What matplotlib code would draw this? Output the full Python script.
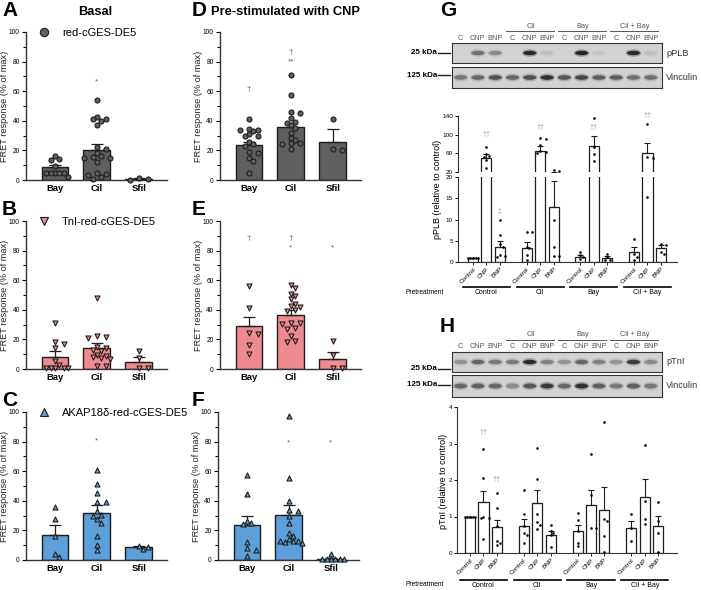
import numpy as np
import matplotlib
matplotlib.use('Agg')
import matplotlib.pyplot as plt
import matplotlib.transforms as mtransforms
from matplotlib.lines import Line2D
from matplotlib.patches import Ellipse

plt.rcParams['font.family'] = ['Liberation Sans', 'DejaVu Sans']

# ─────────────────────────────────────────────
# DATA — FRET panels (A–F)
# ─────────────────────────────────────────────
CATS = ['Bay', 'Cil', 'Sfil']

A_mean = [8.5, 20.3, 0.8]
A_sem = [1.6, 3.7, 0.4]
A_pts = [[16.5, 14.5, 13.5, 9.5, 5, 5, 5, 4.5, 4.5, 2],
         [54, 42.5, 41.5, 41, 40, 37, 22, 21, 18, 16, 15.5, 15, 15, 12, 4.5, 4, 3.5, 2, 1],
         [1.5, 0.5, 0.2]]
A_marks = [(1, '*', 66)]

D_mean = [23.7, 35.7, 26]
D_sem = [2.3, 2.7, 8.3]
D_pts = [[41, 34.5, 34, 33.5, 33, 31, 30, 29.5, 26, 24, 23, 19, 18, 15, 13, 5],
         [71, 57.5, 46, 45, 42, 39.5, 38.5, 37, 35, 32, 28.5, 27, 25, 25, 24.5, 21],
         [41.5, 21, 20]]
D_marks = [(0, '†', 61), (1, '†', 86), (1, '**', 80)]

B_mean = [8.1, 14, 5]
B_sem = [3.9, 3.8, 3]
B_pts = [[31, 18, 17, 14, 5.5, 3, 0.5, 0.5, 0.5, 0.5, 0.5],
         [48, 22, 21.5, 21, 15, 14, 13, 12, 9.5, 9, 8, 7.5, 7, 2, 2],
         [12.5, 7.5, 0.5, 0.5]]
B_marks = []

E_mean = [28.8, 36.7, 6.5]
E_sem = [6.6, 3.3, 4.8]
E_pts = [[56, 41.5, 24.5, 23.5, 16, 10],
         [57, 55, 51, 49, 47, 44, 42.5, 42, 40, 39.5, 31, 31, 30.5, 28, 27, 22, 19, 18.5],
         [19, 9.5, 0.5, 0.5]]
E_marks = [(0, '†', 88), (1, '†', 88), (1, '*', 82), (2, '*', 82)]

C_mean = [17, 31.8, 8.6]
C_sem = [6.4, 5.4, 0.6]
C_pts = [[36, 27.5, 16.5, 4, 2],
         [61, 51.5, 45, 39.5, 39, 33, 30.5, 29.5, 27.5, 25, 16, 10, 6.5],
         [9.5, 9, 7.5]]
C_marks = [(1, '*', 80.6)]

F_mean = [23.4, 30.2, 0.6]
F_sem = [6.1, 7, 0.6]
F_pts = [[57.5, 44.5, 26.5, 25, 24.5, 12.5, 8, 7, 2.5],
         [97.5, 55.5, 40, 33.5, 33, 30, 25, 18, 16, 14, 13, 13, 13, 12.5, 11.5],
         [4, 0.5, 0.5, 0.5, 0.5, 0.5, 0.5]]
F_marks = [(1, '*', 79), (2, '*', 79)]

# ─────────────────────────────────────────────
# DATA — western blots + quantification (G, H)
# ─────────────────────────────────────────────
LANES = ['C', 'CNP', 'BNP'] * 4
GROUPS = ['Control', 'Cil', 'Bay', 'Cil + Bay']
TREAT = ['Control', 'CNP', 'BNP'] * 4
GX = np.array([0, 1, 2, 4, 5, 6, 8, 9, 10, 12, 13, 14])

G_band_top = [0.0, 0.5, 0.35, 0.0, 0.95, 0.08, 0.0, 1.0, 0.05, 0.0, 0.95, 0.08]
G_band_vin = [0.45, 0.55, 0.7, 0.55, 0.7, 0.9, 0.65, 0.75, 0.6, 0.6, 0.5, 0.5]
H_band_top = [0.3, 0.55, 0.45, 0.45, 0.95, 0.4, 0.3, 0.55, 0.4, 0.3, 0.85, 0.35]
H_band_vin = [0.55, 0.6, 0.55, 0.35, 0.65, 0.85, 0.55, 0.9, 0.6, 0.45, 0.6, 0.45]

G_mean = [1.0, 50.7, 3.56, 3.3, 64.3, 13.0, 1.2, 75, 0.95, 2.45, 60.7, 3.2]
G_sem = [0, 7.2, 1.44, 1.3, 12.1, 6.1, 0.5, 21.4, 0.45, 1.15, 22.2, 0.9]
G_pts = [[1, 1, 1, 1, 1, 1], [73.6, 58, 54, 52, 45, 29], [9.9, 6.3, 4.3, 3.6, 1.6, 1.3, 1.2],
         [7.1, 7, 3.6, 3.2, 1.6, 0.5], [93, 91.5, 77, 65, 63, 61.5], [23.3, 22, 10, 3.5, 1.5, 1.5],
         [2.4, 1.6, 1.2, 0.8], [135.7, 73.6, 59, 43], [2, 1.2, 0.5, 0.5],
         [5.4, 1.8, 1.2, 0.5], [122, 52, 50.7, 15.2], [4.2, 4, 2.4, 2]]
G_marks = [(1, '††', 100), (2, '‡', 12), (4, '††', 116), (7, '††', 115), (10, '††', 140)]

H_mean = [1.0, 1.4, 0.71, 0.75, 1.37, 0.5, 0.59, 1.32, 1.17, 0.68, 1.53, 0.73]
H_sem = [0, 0.31, 0.2, 0.19, 0.36, 0.11, 0.19, 0.4, 0.63, 0.19, 0.5, 0.29]
H_pts = [[1, 1, 1, 1, 1, 1], [2.86, 2.05, 0.99, 0.96, 0.95, 0.37], [1.64, 1.23, 0.73, 0.32, 0.27, 0.21],
         [1.72, 1.07, 0.75, 0.55, 0.5, 0.27], [2.88, 2.03, 1.07, 0.84, 0.78, 0.66],
         [0.76, 0.61, 0.55, 0.5, 0.16], [1.1, 0.91, 0.59, 0.27, 0.18], [2.71, 1.6, 0.68, 0.68],
         [3.59, 0.94, 0.87, 0.46, 0.03], [1.07, 0.68, 0.34], [2.95, 1.42, 0.94, 0.8],
         [1.4, 0.89, 0.55, 0.03]]
H_marks = [(1, '††', 3.3), (2, '††', 2.0)]

# ─────────────────────────────────────────────
# LAYOUT HELPERS
# ─────────────────────────────────────────────
W, H = 701, 590
fig = plt.figure(figsize=(7.01, 5.90), dpi=100)
fig.patch.set_facecolor('white')

GREY = '#5f5f5f'
PINK = '#ef8a8f'
BLUE = '#5d9fd8'
INK = '#1e1e1e'


def add_ax(x0, y0, x1, y1):
    return fig.add_axes([x0 / W, 1 - y1 / H, (x1 - x0) / W, (y1 - y0) / H])


def swarm(ypix, d, kmax=4):
    # simple beeswarm: offsets in pixels
    placed, offs = [], []
    for y in ypix:
        best, best_d = 0, -1
        for k in [0] + [s * j for j in range(1, kmax + 1) for s in (1, -1)]:
            xo = k * d * 0.9
            md = min([np.hypot(xo - px, y - py) for px, py in placed] or [99])
            if md >= d:
                best = xo
                break
            if md > best_d:
                best, best_d = xo, md
        placed.append((best, y))
        offs.append(best)
    return np.array(offs)


def style_spines(ax, lw=1.0):
    ax.spines[['top', 'right']].set_visible(False)
    for s in ('left', 'bottom'):
        ax.spines[s].set_linewidth(lw)
        ax.spines[s].set_color('#333333')


def fret_panel(box, means, sems, pts, color, marker, marks, legend=None):
    ax = add_ax(*box)
    x = np.arange(3)
    ax.bar(x, means, width=0.64, color=color, edgecolor=INK, lw=1.0, zorder=1)
    ax.errorbar(x, means, yerr=[np.zeros(3), sems], fmt='none', ecolor=INK,
                elinewidth=0.9, capsize=4, capthick=0.9, zorder=2)
    for i, vals in enumerate(pts):
        v = np.array(vals, float)
        offs = swarm(v * 1.48, 4.8, kmax=3) / 42.0
        ax.scatter(i + offs, v, marker=marker, s=13, facecolor=color,
                   edgecolor=INK, lw=0.8, zorder=3, clip_on=False)
    for i, txt, y in marks:
        ax.text(i, y, txt, ha='center', va='center', fontsize=6, color='#666666')
    ax.set_xlim(-0.69, 2.67)
    ax.set_ylim(0, 100)
    ax.set_yticks(range(0, 101, 20))
    ax.set_yticks(range(10, 100, 20), minor=True)
    ax.tick_params(axis='y', labelsize=4.8, length=3, width=0.8, pad=1.5)
    ax.tick_params(axis='y', which='minor', length=2, width=0.8)
    ax.set_xticks(x, CATS, fontsize=6.8, fontweight='bold')
    ax.tick_params(axis='x', length=0, pad=3)
    ax.set_ylabel('FRET response (% of max)', fontsize=6.6, color='#222222')
    ax.yaxis.set_label_coords(-0.118, 0.5)
    style_spines(ax)
    if legend:
        h = Line2D([], [], ls='none', marker=marker, markersize=6, markerfacecolor=color,
                   markeredgecolor=INK, markeredgewidth=0.8)
        ax.legend([h], [legend], loc='upper left', bbox_to_anchor=(0.02, 1.06),
                  frameon=False, fontsize=8, handletextpad=0.6, borderaxespad=0)
    return ax


# ─────────────────────────────────────────────
# PANELS A–F
# ─────────────────────────────────────────────
fret_panel((26, 32, 167, 180), A_mean, A_sem, A_pts, GREY, 'o', A_marks, 'red-cGES-DE5')
fret_panel((220, 32, 361, 180), D_mean, D_sem, D_pts, GREY, 'o', D_marks)
fret_panel((26, 221, 167, 369), B_mean, B_sem, B_pts, PINK, 'v', B_marks, 'TnI-red-cGES-DE5')
fret_panel((220, 221, 361, 369), E_mean, E_sem, E_pts, PINK, 'v', E_marks)
fret_panel((26, 412, 167, 560), C_mean, C_sem, C_pts, BLUE, '^', C_marks, 'AKAP18δ-red-cGES-DE5')
fret_panel((218, 412, 359, 560), F_mean, F_sem, F_pts, BLUE, '^', F_marks)

for lab, (px, py) in zip('ABCDEFGH', [(2, 11), (2, 210), (2, 400), (192, 11),
                                      (192, 210), (192, 400), (440, 11), (440, 327)]):
    fig.text(px / W, 1 - py / H, lab, fontsize=15, fontweight='bold', va='center', ha='left')
fig.text(95 / W, 1 - 12 / H, 'Basal', fontsize=9.3, fontweight='bold', ha='center', va='center')
fig.text(211 / W, 1 - 12 / H, 'Pre-stimulated with CNP', fontsize=9.3, fontweight='bold',
         ha='left', va='center')


# ─────────────────────────────────────────────
# WESTERN BLOTS
# ─────────────────────────────────────────────
def blot_strip(box, bands, name, kda, kda_y, header=False):
    ax = add_ax(*box)
    ax.set_facecolor('#d2d2d2')
    ax.set_xlim(-0.5, 11.65)
    ax.set_ylim(0, 1)
    ax.set_xticks([])
    ax.set_yticks([])
    for s in ax.spines.values():
        s.set_linewidth(0.8)
        s.set_color('#333333')
    for i, v in enumerate(bands):
        if v <= 0:
            continue
        ax.add_patch(Ellipse((i, 0.5), 0.9, 0.38, color='#202020', alpha=0.3 * v, lw=0))
        ax.add_patch(Ellipse((i, 0.5), 0.75, 0.22, color='#101010', alpha=0.85 * v, lw=0))
    tr = mtransforms.blended_transform_factory(ax.transData, ax.transAxes)
    ax.text(1.02, 0.5, name, transform=ax.transAxes, fontsize=6.6, color='#333333',
            ha='left', va='center')
    ax.plot([-1.3, -0.6], [kda_y, kda_y], color='#222222', lw=1.0, transform=tr, clip_on=False)
    ax.text(-1.35, kda_y, kda, transform=tr, fontsize=5.8, fontweight='bold',
            ha='right', va='center')
    if header:
        for i, lab in enumerate(LANES):
            ax.text(i, 1.25, lab, transform=tr, fontsize=5.3, color='#555555',
                    ha='center', va='center')
        for g in range(1, 4):
            a, b = 3 * g, 3 * g + 2
            ax.plot([a - 0.35, b + 0.4], [1.6, 1.6], color='#555555', lw=0.7,
                    transform=tr, clip_on=False)
            ax.text((a + b) / 2 + 0.05, 1.85, GROUPS[g], transform=tr, fontsize=5.3,
                    color='#555555', ha='center', va='center')
    return ax


blot_strip((452, 43, 662, 63), G_band_top, 'pPLB', '25 kDa', 0.5, header=True)
blot_strip((452, 67, 662, 88), G_band_vin, 'Vinculin', '125 kDa', 0.6)
blot_strip((452, 352, 662, 372), H_band_top, 'pTnI', '25 kDa', 0.15, header=True)
blot_strip((452, 375, 662, 397), H_band_vin, 'Vinculin', '125 kDa', 0.55)


# ─────────────────────────────────────────────
# QUANTIFICATION BAR CHARTS
# ─────────────────────────────────────────────
def quant_bars(ax, means, sems, pts, ypix_fn):
    ax.bar(GX, means, width=0.75, color='white', edgecolor=INK, lw=0.9, zorder=1)
    ax.errorbar(GX, means, yerr=[np.zeros(len(GX)), sems], fmt='none', ecolor=INK,
                elinewidth=0.8, capsize=2.2, capthick=0.8, zorder=2)
    for x, vals in zip(GX, pts):
        v = np.array(vals, float)
        offs = swarm(ypix_fn(v), 3.0, kmax=2) / 13.4
        ax.scatter(x + offs, v, s=3.5, color='black', lw=0, zorder=3)


def quant_xaxis(ax, line_y, text_y):
    ax.set_xticks(GX, TREAT, rotation=45, ha='right', rotation_mode='anchor', fontsize=4.6)
    ax.tick_params(axis='x', length=2, width=0.6, pad=1)
    tr = mtransforms.blended_transform_factory(ax.transData, ax.transAxes)
    for g in range(4):
        a, b = 4 * g, 4 * g + 2
        ax.plot([a - 0.75, b + 0.75], [line_y, line_y], color='black', lw=1.2,
                transform=tr, clip_on=False)
        ax.text((a + b) / 2, text_y, GROUPS[g], transform=tr, fontsize=5,
                ha='center', va='center')


def g_ypix(v):
    return np.where(v <= 20, v * 4.25, 90 + (v - 20) * 0.467)


# G: broken y axis
gL = add_ax(458, 177, 677, 262)
gU = add_ax(458, 116, 677, 172)
for ax in (gL, gU):
    quant_bars(ax, G_mean, G_sem, G_pts, g_ypix)
    ax.set_xlim(-1.12, 15.2)
    style_spines(ax, 0.8)
    ax.tick_params(axis='y', labelsize=4.6, length=2.5, width=0.7, pad=1)
gL.set_ylim(0, 20)
gL.set_yticks([0, 5, 10, 15, 20])
gU.set_ylim(20, 140)
gU.set_yticks([20, 60, 100, 140])
gU.spines['bottom'].set_visible(False)
gU.set_xticks([])
quant_xaxis(gL, -0.29, -0.36)
for i, txt, y in G_marks:
    ax = gL if y <= 20 else gU
    ax.text(GX[i], y, txt, ha='center', va='center', fontsize=5, color='#9a9a9a')
fig.text(438 / W, 1 - 189 / H, 'pPLB (relative to control)', rotation=90,
         fontsize=6.5, ha='center', va='center')
fig.text(444 / W, 1 - 292 / H, 'Pretreatment', fontsize=4.8, ha='right', va='center')

# H
hA = add_ax(457, 407, 677, 553)
quant_bars(hA, H_mean, H_sem, H_pts, lambda v: v * 36.5)
hA.set_xlim(-0.97, 15.4)
hA.set_ylim(0, 4)
hA.set_yticks([0, 1, 2, 3, 4])
style_spines(hA, 0.8)
hA.tick_params(axis='y', labelsize=4.6, length=2.5, width=0.7, pad=1)
quant_xaxis(hA, -0.185, -0.22)
for i, txt, y in H_marks:
    hA.text(GX[i], y, txt, ha='center', va='center', fontsize=5, color='#9a9a9a')
fig.text(444 / W, 1 - 481 / H, 'pTnI (relative to control)', rotation=90,
         fontsize=6.5, ha='center', va='center')
fig.text(444 / W, 1 - 585 / H, 'Pretreatment', fontsize=4.8, ha='right', va='center')

plt.savefig('out.png', dpi=100, facecolor='white')
